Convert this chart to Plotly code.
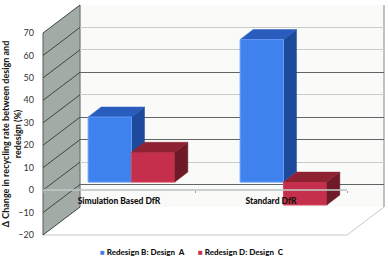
import plotly.graph_objects as go

categories = ["Simulation Based DfR", "Standard DfR"]
series_names = ["Redesign B: Design  A", "Redesign D: Design  C"]
design_a = [29, 63.5]
design_c = [13.3, -10.2]
tick_values = [70, 60, 50, 40, 30, 20, 10, 0, -10, -20]
dark_grid = [70, 40, 20, 10, -10, -20]
light_grid = [60, 50, 30, 0]
y_title = "Δ Change in recycling rate between design and<br>redesign (%)"

W, H = 388, 257
FX0, FX1 = 43, 347        # front plane horizontal extent, px
FY_TOP, FY_BOT = 33, 235  # front plane y of 70 and -20, px
BACK_DX, BACK_DY = 37, 28
BAR_DX, BAR_DY = 12.5, 8
SIDE_DX, SIDE_DY = 13, 10
BARGAP = 0.43
YR = [-20, 70]
CR = [-0.5, 1.5]
BLUE, RED = "#3F82EE", "#C62F4C"
CLEAR = "rgba(0,0,0,0)"
LEGEND_CENTER_PY = 252

def xdom(x0, x1):
    return [x0 / W, x1 / W]

def ydom(top, bot):
    return [(H - bot) / H, (H - top) / H]

def py(v):
    return FY_BOT + (v - YR[0]) * (FY_TOP - FY_BOT) / (YR[1] - YR[0])

def paper(x, y):
    return x / W, (H - y) / H

def poly(points, fill, line=CLEAR, width=0):
    path = "M" + " L".join(f"{x/W:.5f},{(H-y)/H:.5f}" for x, y in points) + " Z"
    return dict(type="path", path=path, xref="paper", yref="paper", fillcolor=fill,
                line=dict(color=line, width=width), layer="below")

def seg(p0, p1, color, width=1):
    x0, y0 = paper(*p0)
    x1, y1 = paper(*p1)
    return dict(type="line", x0=x0, y0=y0, x1=x1, y1=y1, xref="paper", yref="paper",
                line=dict(color=color, width=width), layer="below")

bx0, bx1 = FX0 + BACK_DX, FX1 + BACK_DX
shapes = [
    poly([(bx0, py(70) - BACK_DY), (bx1, py(70) - BACK_DY), (bx1, py(-20) - BACK_DY), (bx0, py(-20) - BACK_DY)], "#FAFAF9"),
    poly([(FX0, py(70)), (bx0, py(70) - BACK_DY), (bx0, py(-20) - BACK_DY), (FX0, py(-20))], "#A3ABA7"),
    seg((FX0, py(-20)), (FX1, py(-20)), "#C4CCC8", 1.2),
    seg((FX1, py(-20)), (bx1, py(-20) - BACK_DY), "#C4CCC8", 1),
    seg((bx1, py(70) - BACK_DY), (bx1, py(-20) - BACK_DY), "#A8AEAC", 1.5),
    seg((bx0, py(70) - BACK_DY), (bx0, py(-20) - BACK_DY), "#6E7674", 1.2),
    seg((FX0, py(70)), (FX0, py(-20)), "#555C5A", 1),
]
for v in tick_values:
    shapes.append(seg((FX0, py(v)), (bx0, py(v) - BACK_DY), "#3E4544", 1))

# bar geometry in data units
bar_w = (1 - BARGAP) / 2
cat_per_px = (CR[1] - CR[0]) / (FX1 - FX0)
val_per_px = (YR[1] - YR[0]) / (FY_BOT - FY_TOP)
ddx = SIDE_DX * cat_per_px
ddy = SIDE_DY * val_per_px

def faces(i, value, left, name, top_col, side_col):
    xl, xr = i + left, i + left + bar_w
    hi = max(value, 0)
    lo = min(value, 0)
    top = go.Scatter(x=[xl, xl + ddx, xr + ddx, xr, xl], y=[hi, hi + ddy, hi + ddy, hi, hi],
                     fill="toself", fillcolor=top_col, mode="lines", line=dict(color=top_col, width=0.5),
                     showlegend=False, hoverinfo="skip", name=name)
    side = go.Scatter(x=[xr, xr + ddx, xr + ddx, xr, xr], y=[hi, hi + ddy, lo + ddy, lo, hi],
                      fill="toself", fillcolor=side_col, mode="lines", line=dict(color=side_col, width=0.5),
                      showlegend=False, hoverinfo="skip", name=name)
    return [side, top]

fig = go.Figure()

# back wall carriers for the two grid weights
for xa, ya in (("x", "y"), ("x2", "y2")):
    fig.add_trace(go.Scatter(x=[0], y=[0], mode="markers", marker=dict(color=CLEAR), xaxis=xa, yaxis=ya,
                             showlegend=False, hoverinfo="skip"))

# blue depth faces, below all the fronts
for i, v in enumerate(design_a):
    for tr in faces(i, v, -bar_w, series_names[0], "#2A5CBE", "#1E4A9C"):
        tr.update(xaxis="x3", yaxis="y3")
        fig.add_trace(tr)

# fronts
pos = list(range(len(categories)))
fig.add_trace(go.Bar(x=pos, y=design_a, name=series_names[0], xaxis="x4", yaxis="y4", showlegend=False,
                     marker=dict(color=BLUE, line=dict(color="#5E9BF5", width=1))))
fig.add_trace(go.Bar(x=pos, y=design_c, name=series_names[1], xaxis="x4", yaxis="y4", showlegend=False,
                     marker=dict(color=RED, line=dict(color="#D8475F", width=1))))

# red depth faces
for i, v in enumerate(design_c):
    for tr in faces(i, v, 0, series_names[1], "#8E2233", "#6E1A28"):
        tr.update(xaxis="x4", yaxis="y4")
        fig.add_trace(tr)

# front axis carrier, drawn last so its labels sit on top
fig.add_trace(go.Scatter(x=categories, y=[0, 0], mode="markers", marker=dict(color=CLEAR), xaxis="x5", yaxis="y5",
                         showlegend=False, hoverinfo="skip"))

# legend entries with small square keys, one legend box per series
for nm, col, lg in zip(series_names, (BLUE, RED), ("legend", "legend2")):
    fig.add_trace(go.Scatter(x=[0], y=[0], mode="markers", marker=dict(color=CLEAR), xaxis="x5", yaxis="y5",
                             hoverinfo="skip", legend=lg,
                             name=f"<span style='color:{col}'>■</span> {nm}"))

hidden_x = dict(visible=False, range=CR, fixedrange=True)
back_x = xdom(bx0, bx1)
back_y = ydom(py(70) - BACK_DY, py(-20) - BACK_DY)
bar_x = xdom(FX0 + BAR_DX, FX1 + BAR_DX)
bar_y = ydom(py(70) - BAR_DY, py(-20) - BAR_DY)

def grid_axis(vals, color, width, anchor):
    return dict(domain=back_y, range=YR, tickmode="array", tickvals=vals, showticklabels=False,
                showgrid=True, gridcolor=color, gridwidth=width, zeroline=False, ticks="",
                showline=False, anchor=anchor)

def legend_box(px_left):
    return dict(orientation="h", x=px_left / W, y=(H - LEGEND_CENTER_PY) / H,
                xanchor="left", yanchor="middle",
                font=dict(size=8, color="#111111", family="Lato Black, Lato, sans-serif"),
                bgcolor=CLEAR, itemwidth=30, borderwidth=0)

fig.update_layout(
    width=W, height=H, autosize=False,
    margin=dict(l=0, r=0, t=0, b=0, autoexpand=False),
    paper_bgcolor="white", plot_bgcolor=CLEAR,
    font=dict(family="Lato, 'Open Sans', sans-serif", color="#222222"),
    barmode="group", bargap=BARGAP, bargroupgap=0,
    shapes=shapes,
    xaxis=dict(domain=back_x, anchor="y", **hidden_x),
    yaxis=grid_axis(dark_grid, "#5F6766", 1.2, "x"),
    xaxis2=dict(domain=back_x, anchor="y2", **hidden_x),
    yaxis2=grid_axis(light_grid, "#C6CDCA", 1.2, "x2"),
    xaxis3=dict(domain=bar_x, anchor="y3", **hidden_x),
    yaxis3=dict(domain=bar_y, range=YR, visible=False, anchor="x3"),
    xaxis4=dict(domain=bar_x, anchor="y4", **hidden_x),
    yaxis4=dict(domain=bar_y, range=YR, visible=False, anchor="x4"),
    xaxis5=dict(domain=xdom(FX0, FX1), anchor="free", position=(H - py(0)) / H,
                type="category", categoryorder="array", categoryarray=categories,
                range=CR, tickson="boundaries", ticks="outside", ticklen=2, tickcolor="#9AA2A0",
                showline=True, linecolor="rgba(190,200,196,0.8)", linewidth=1.5, showgrid=False,
                tickfont=dict(size=8.5, color="#111111", family="Lato Black, Lato, sans-serif"),
                ticklabelstandoff=3, automargin=False),
    yaxis5=dict(domain=ydom(FY_TOP, FY_BOT), anchor="x5", range=YR, tickmode="array",
                tickvals=tick_values, ticks="", showgrid=False, zeroline=False, showline=False,
                tickfont=dict(size=9, color="#333333"), ticklabelstandoff=8, automargin=False,
                title=dict(text="<b>" + y_title.replace("<br>", "</b><br><b>") + "</b>",
                           font=dict(size=9, color="#111111"), standoff=2)),
    legend=legend_box(60),
    legend2=legend_box(158),
    showlegend=True,
)

fig.write_html("out.html", post_script="document.body.style.margin='0';",
               config=dict(displayModeBar=False))
